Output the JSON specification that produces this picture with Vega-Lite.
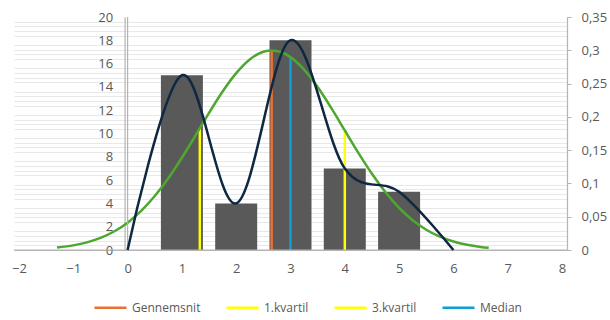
{
  "$schema": "https://vega.github.io/schema/vega-lite/v6.json",
  "width": 553,
  "height": 233,
  "autosize": {"type": "none"},
  "padding": {"left": 14, "top": 17, "right": 43, "bottom": 70},
  "background": "white",
  "config": {
    "view": {"stroke": null},
    "font": "Open Sans",
    "axis": {
      "labelColor": "#595959",
      "labelFontSize": 13,
      "title": null
    }
  },
  "datasets": {
    "hyppighed": [
      {"karakter": 1, "antal": 15},
      {"karakter": 2, "antal": 4},
      {"karakter": 3, "antal": 18},
      {"karakter": 4, "antal": 7},
      {"karakter": 5, "antal": 5}
    ],
    "kurve": [
      {"karakter": 0, "antal": 0},
      {"karakter": 1, "antal": 15},
      {"karakter": 2, "antal": 4},
      {"karakter": 3, "antal": 18},
      {"karakter": 4, "antal": 7},
      {"karakter": 5, "antal": 5},
      {"karakter": 6, "antal": 0}
    ],
    "normal": [
      {"x": -1.3, "f": 0.00364},
      {"x": -1.0, "f": 0.00693},
      {"x": -0.75, "f": 0.01141},
      {"x": -0.5, "f": 0.01812},
      {"x": -0.25, "f": 0.02778},
      {"x": 0.0, "f": 0.04111},
      {"x": 0.25, "f": 0.05874},
      {"x": 0.5, "f": 0.08101},
      {"x": 0.75, "f": 0.10785},
      {"x": 1.0, "f": 0.1386},
      {"x": 1.25, "f": 0.17196},
      {"x": 1.5, "f": 0.20598},
      {"x": 1.75, "f": 0.23811},
      {"x": 2.0, "f": 0.2657},
      {"x": 2.25, "f": 0.2863},
      {"x": 2.5, "f": 0.29776},
      {"x": 2.653, "f": 0.29973},
      {"x": 2.75, "f": 0.29894},
      {"x": 3.0, "f": 0.28971},
      {"x": 3.25, "f": 0.27105},
      {"x": 3.5, "f": 0.24479},
      {"x": 3.75, "f": 0.21341},
      {"x": 4.0, "f": 0.1796},
      {"x": 4.25, "f": 0.14591},
      {"x": 4.5, "f": 0.11444},
      {"x": 4.75, "f": 0.08665},
      {"x": 5.0, "f": 0.0633},
      {"x": 5.25, "f": 0.04466},
      {"x": 5.5, "f": 0.03042},
      {"x": 5.75, "f": 0.02},
      {"x": 6.0, "f": 0.01269},
      {"x": 6.25, "f": 0.00778},
      {"x": 6.5, "f": 0.0046},
      {"x": 6.65, "f": 0.0033}
    ],
    "maal": [
      {"navn": "Gennemsnit", "x": 2.653, "f": 0.2997},
      {"navn": "1.kvartil", "x": 1.33, "f": 0.183},
      {"navn": "3.kvartil", "x": 4, "f": 0.1796},
      {"navn": "Median", "x": 3, "f": 0.2897}
    ],
    "akser": [
      {"nul": 0}
    ]
  },
  "layer": [
    {
      "data": {"name": "hyppighed"},
      "mark": {"type": "bar", "size": 42, "color": "#595959"},
      "encoding": {
        "x": {
          "field": "karakter",
          "type": "quantitative",
          "scale": {"domain": [-2, 8], "nice": false},
          "axis": {
            "values": [-2, -1, 0, 1, 2, 3, 4, 5, 6, 7, 8],
            "ticks": false,
            "grid": false,
            "domain": true,
            "domainColor": "#b4b4b4",
            "domainWidth": 1.2,
            "labelPadding": 12,
            "format": "d"
          }
        },
        "y": {
          "field": "antal",
          "type": "quantitative",
          "scale": {"domain": [0, 20], "nice": false},
          "axis": {
            "orient": "left",
            "offset": -110.6,
            "values": [0, 0.4, 0.8, 1.2, 1.6, 2, 2.4, 2.8, 3.2, 3.6, 4, 4.4, 4.8, 5.2, 5.6, 6, 6.4, 6.8, 7.2, 7.6, 8, 8.4, 8.8, 9.2, 9.6, 10, 10.4, 10.8, 11.2, 11.6, 12, 12.4, 12.8, 13.2, 13.6, 14, 14.4, 14.8, 15.2, 15.6, 16, 16.4, 16.8, 17.2, 17.6, 18, 18.4, 18.8, 19.2, 19.6, 20],
            "labelExpr": "datum.value % 2 === 0 ? format(datum.value, 'd') : ''",
            "domain": true,
            "domainColor": "#b4b4b4",
            "domainWidth": 1.2,
            "ticks": false,
            "labelPadding": 12,
            "grid": true,
            "gridColor": "#e8e8e8",
            "gridOpacity": {"condition": {"test": "datum.value % 2 === 0", "value": 0}, "value": 1}
          }
        }
      }
    },
    {
      "layer": [
        {
          "data": {"name": "maal"},
          "mark": {"type": "rule", "strokeWidth": 2.5},
          "encoding": {
            "x": {"field": "x", "type": "quantitative"},
            "y": {
              "field": "f",
              "type": "quantitative",
              "scale": {"domain": [0, 0.35], "nice": false},
              "axis": {
                "orient": "right",
                "values": [0, 0.05, 0.1, 0.15, 0.2, 0.25, 0.3, 0.35],
                "labelExpr": "replace(format(datum.value, '~g'), '.', ',')",
                "domainColor": "#b4b4b4",
                "domainWidth": 1.2,
                "tickColor": "#b4b4b4",
                "tickSize": 4,
                "labelPadding": 10,
                "grid": false
              }
            },
            "y2": {"datum": 0},
            "color": {
              "field": "navn",
              "type": "nominal",
              "scale": {
                "domain": ["Gennemsnit", "1.kvartil", "3.kvartil", "Median"],
                "range": ["#e97132", "#ffff00", "#ffff00", "#0f9ed5"]
              },
              "legend": {
                "orient": "none",
                "legendX": 79,
                "legendY": 273,
                "direction": "horizontal",
                "title": null,
                "symbolType": "stroke",
                "symbolSize": 1024,
                "symbolStrokeWidth": 2.5,
                "labelFontSize": 12,
                "labelColor": "#595959",
                "labelOffset": 4,
                "columnPadding": 20
              }
            }
          }
        },
        {
          "data": {"name": "normal"},
          "mark": {"type": "line", "color": "#4ea72e", "strokeWidth": 2.5, "interpolate": "monotone"},
          "encoding": {
            "x": {"field": "x", "type": "quantitative"},
            "y": {
              "field": "f",
              "type": "quantitative",
              "scale": {"domain": [0, 0.35], "nice": false},
              "axis": {
                "orient": "right",
                "values": [0, 0.05, 0.1, 0.15, 0.2, 0.25, 0.3, 0.35],
                "labelExpr": "replace(format(datum.value, '~g'), '.', ',')",
                "domainColor": "#b4b4b4",
                "domainWidth": 1.2,
                "tickColor": "#b4b4b4",
                "tickSize": 4,
                "labelPadding": 10,
                "grid": false
              }
            }
          }
        }
      ]
    },
    {
      "layer": [
        {
          "description": "Baseline along y = 0",
          "data": {"name": "akser"},
          "mark": {"type": "rule", "color": "#b4b4b4", "strokeWidth": 1.2},
          "encoding": {
            "y": {"field": "nul", "type": "quantitative", "scale": {"domain": [0, 20], "nice": false}, "axis": null}
          }
        },
        {
          "description": "Vertical axis line at x = 0",
          "data": {"name": "akser"},
          "mark": {"type": "rule", "color": "#b4b4b4", "strokeWidth": 1.2},
          "encoding": {
            "x": {"field": "nul", "type": "quantitative"}
          }
        },
        {
          "data": {"name": "kurve"},
          "mark": {"type": "line", "color": "#0e2841", "strokeWidth": 2.5, "interpolate": "cardinal"},
          "encoding": {
            "x": {"field": "karakter", "type": "quantitative"},
            "y": {
              "field": "antal",
              "type": "quantitative",
              "scale": {"domain": [0, 20], "nice": false},
              "axis": null
            }
          }
        }
      ]
    }
  ],
  "resolve": {"scale": {"y": "independent"}}
}
